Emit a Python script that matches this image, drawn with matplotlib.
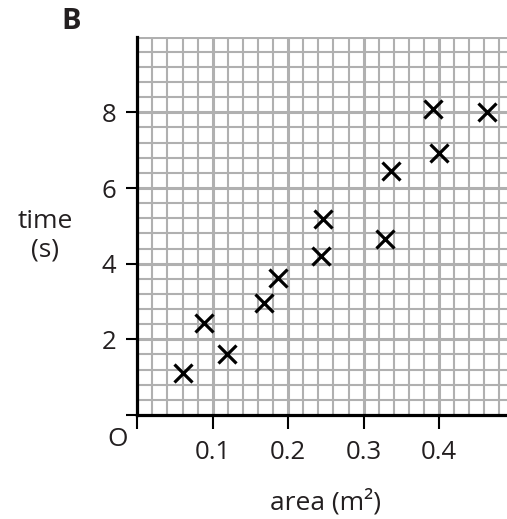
import matplotlib
matplotlib.use("Agg")
import matplotlib.pyplot as plt
import numpy as np

area = [0.060, 0.088, 0.119, 0.168, 0.186, 0.243, 0.246, 0.328, 0.336, 0.392, 0.400, 0.463]
time_s = [1.10, 2.44, 1.62, 2.96, 3.63, 4.21, 5.19, 4.66, 6.45, 8.10, 6.93, 8.00]
xticks = [0.1, 0.2, 0.3, 0.4]
xticklabels = ["0.1", "0.2", "0.3", "0.4"]
yticks = [2, 4, 6, 8]
yticklabels = ["2", "4", "6", "8"]

plt.rcParams['font.family'] = ['Open Sans', 'DejaVu Sans']

W, H = 507, 519
fig = plt.figure(figsize=(W / 100, H / 100), dpi=100)
x0, x1 = 137.3, 507.0
ytop, ybot = 36.7, 415.0
ax = fig.add_axes([x0 / W, 1 - ybot / H, (x1 - x0) / W, (ybot - ytop) / H])

ax.set_xlim(0, 0.49)
ax.set_ylim(0, 10)

grid_col = "#b0b0b0"
for v in np.arange(0.02, 0.49, 0.02):
    major = abs(v / 0.1 - round(v / 0.1)) < 1e-6
    ax.axvline(v, color=grid_col, lw=2.2 if major else 1.5, zorder=1)
for v in np.arange(0.4, 10.01, 0.4):
    major = abs(v / 2 - round(v / 2)) < 1e-6
    ax.axhline(v, color=grid_col, lw=2.2 if major else 1.5, zorder=1)

ax.plot(area, time_s, linestyle='none', marker='x', color='black',
        markersize=12.5, markeredgewidth=2.3, zorder=3, clip_on=False)

for s in ['top', 'right']:
    ax.spines[s].set_visible(False)
for s in ['left', 'bottom']:
    ax.spines[s].set_linewidth(2.3)
    ax.spines[s].set_color('black')
    ax.spines[s].set_zorder(4)

ax.set_xticks([0] + xticks)
ax.set_xticklabels([""] + xticklabels)
ax.set_yticks([0] + yticks)
ax.set_yticklabels([""] + yticklabels)
ax.tick_params(axis='x', direction='out', length=10, width=1.5, pad=8,
               labelsize=18.5, colors='black', labelcolor='#231f20')
ax.tick_params(axis='y', direction='out', length=8, width=1.5, pad=7,
               labelsize=18.5, colors='black', labelcolor='#231f20')

def ftxt(px, py, s, **kw):
    fig.text(px / W, 1 - py / H, s, ha='center', va='center', **kw)

ftxt(117.5, 439, "O", fontsize=19, color='#231f20')
ftxt(45, 236, "time\n(s)", fontsize=19, color='#231f20', linespacing=1.2)
ftxt(326, 502, "area (m²)", fontsize=19, color='#231f20')
ftxt(71.5, 22, "B", fontsize=21, fontweight='bold', color='#231f20')

fig.savefig("out.png", dpi=100)
